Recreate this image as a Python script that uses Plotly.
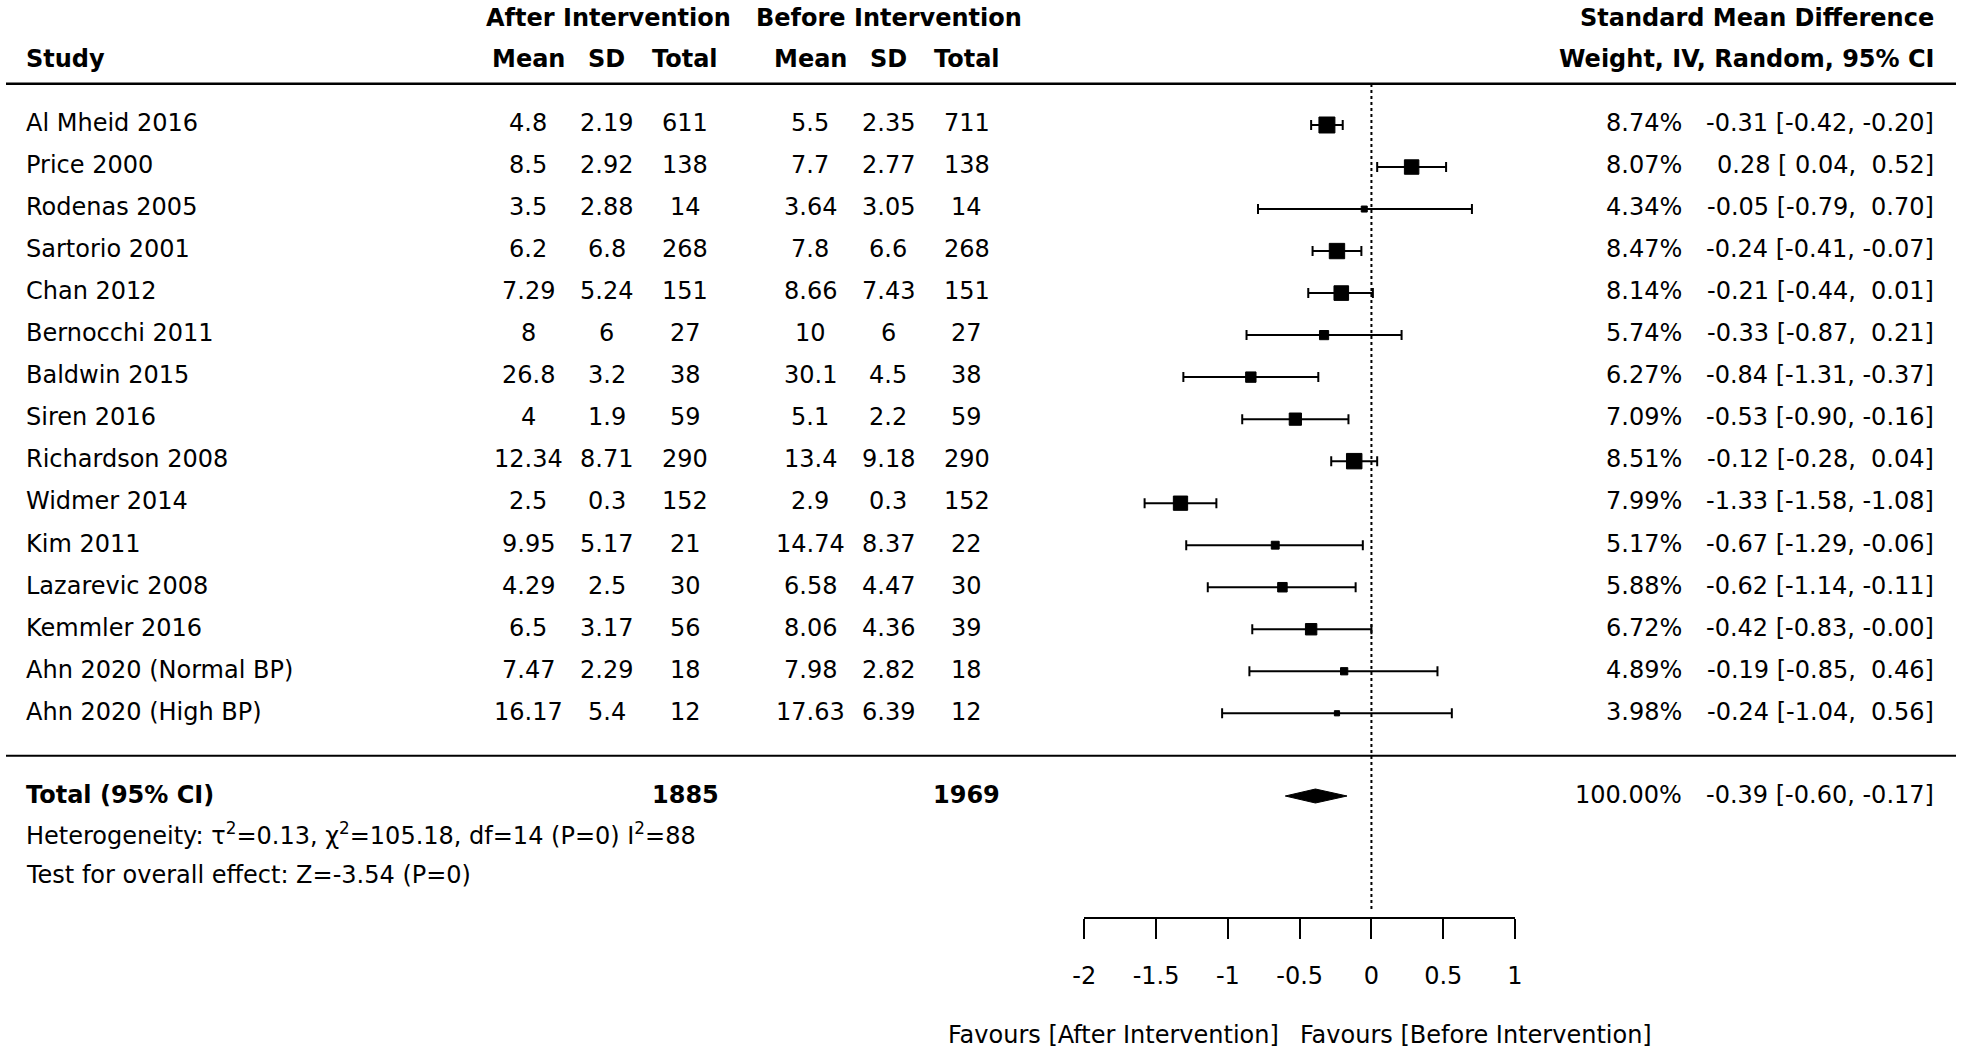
import plotly.graph_objects as go

# ---------------- data ----------------
studies = ["Al Mheid 2016", "Price 2000", "Rodenas 2005", "Sartorio 2001", "Chan 2012",
           "Bernocchi 2011", "Baldwin 2015", "Siren 2016", "Richardson 2008", "Widmer 2014",
           "Kim 2011", "Lazarevic 2008", "Kemmler 2016", "Ahn 2020 (Normal BP)", "Ahn 2020 (High BP)"]
after_mean = [4.8, 8.5, 3.5, 6.2, 7.29, 8, 26.8, 4, 12.34, 2.5, 9.95, 4.29, 6.5, 7.47, 16.17]
after_sd = [2.19, 2.92, 2.88, 6.8, 5.24, 6, 3.2, 1.9, 8.71, 0.3, 5.17, 2.5, 3.17, 2.29, 5.4]
after_n = [611, 138, 14, 268, 151, 27, 38, 59, 290, 152, 21, 30, 56, 18, 12]
before_mean = [5.5, 7.7, 3.64, 7.8, 8.66, 10, 30.1, 5.1, 13.4, 2.9, 14.74, 6.58, 8.06, 7.98, 17.63]
before_sd = [2.35, 2.77, 3.05, 6.6, 7.43, 6, 4.5, 2.2, 9.18, 0.3, 8.37, 4.47, 4.36, 2.82, 6.39]
before_n = [711, 138, 14, 268, 151, 27, 38, 59, 290, 152, 22, 30, 39, 18, 12]
weights = [8.74, 8.07, 4.34, 8.47, 8.14, 5.74, 6.27, 7.09, 8.51, 7.99, 5.17, 5.88, 6.72, 4.89, 3.98]
smd = [-0.31, 0.28, -0.05, -0.24, -0.21, -0.33, -0.84, -0.53, -0.12, -1.33, -0.67, -0.62, -0.42, -0.19, -0.24]
ci_low = [-0.42, 0.04, -0.79, -0.41, -0.44, -0.87, -1.31, -0.90, -0.28, -1.58, -1.29, -1.14, -0.83, -0.85, -1.04]
ci_high = [-0.20, 0.52, 0.70, -0.07, 0.01, 0.21, -0.37, -0.16, 0.04, -1.08, -0.06, -0.11, -0.0, 0.46, 0.56]

total_weight = 100.00
total_smd = -0.39
total_low = -0.60
total_high = -0.17
heterogeneity = "Heterogeneity: τ<sup>2</sup>=0.13, χ<sup>2</sup>=105.18, df=14 (P=0) I<sup>2</sup>=88"
overall_test = "Test for overall effect: Z=-3.54 (P=0)"
tick_vals = [-2, -1.5, -1, -0.5, 0, 0.5, 1]
tick_text = ["-2", "-1.5", "-1", "-0.5", "0", "0.5", "1"]
favours_left = "Favours [After Intervention]"
favours_right = "Favours [Before Intervention]"

# ---------------- layout geometry (page pixels) ----------------
FIG_W, FIG_H = 1962, 1054
OFF = 0                      # page margin removed below, figure fills the window
ROW0, ROW_H = 125.0, 42.02   # centre of first study row, row pitch
FONT = "DejaVu Sans"
FS = 24
NBSP = "\u00a0"


def px(xpage):
    return (xpage - OFF) / FIG_W


def yrow(ypage):
    return (ypage - ROW0) / ROW_H


def ppaper(ypage):
    return 1 - (ypage - OFF) / FIG_H


TEXT_DY = -1.7 / ROW_H

n = len(studies)
rows = list(range(n))

fig = go.Figure()

# study estimates: squares sized by weight, with 95% CI whiskers
sizes = [2.27 * w - 3.85 for w in weights]
fig.add_trace(go.Scatter(
    x=smd, y=rows, mode="markers",
    marker=dict(symbol="square", size=sizes, color="black", opacity=1,
                line=dict(width=1, color="black")),
    error_x=dict(type="data", symmetric=False,
                 array=[h - e for h, e in zip(ci_high, smd)],
                 arrayminus=[e - l for e, l in zip(smd, ci_low)],
                 color="black", thickness=2, width=5),
    showlegend=False, hoverinfo="skip"))

# pooled estimate diamond
TOTAL_ROW = yrow(796.0)
DH = 7.0 / ROW_H
fig.add_trace(go.Scatter(
    x=[total_low, total_smd, total_high, total_smd, total_low],
    y=[TOTAL_ROW, TOTAL_ROW - DH, TOTAL_ROW, TOTAL_ROW + DH, TOTAL_ROW],
    mode="lines", fill="toself", fillcolor="black",
    line=dict(color="black", width=1), showlegend=False, hoverinfo="skip"))

ann = []


def add_text(text, xpage, yr, anchor="center", bold=False):
    if bold:
        text = "<b>" + text + "</b>"
    ann.append(dict(text=text, x=px(xpage), xref="paper", y=yr, yref="y",
                    xanchor=anchor, yanchor="middle", showarrow=False,
                    borderpad=0, borderwidth=0,
                    font=dict(family=FONT, size=FS, color="black")))


COL_STUDY = 25.5
COL_AM, COL_AS, COL_AT = 528, 606.5, 685
COL_BM, COL_BS, COL_BT = 810, 888, 966.5
COL_W = 1681.5
COL_CI = 1934

H1 = yrow(18.0)
H2 = yrow(58.8)

add_text("After Intervention", 608, H1, bold=True)
add_text("Before Intervention", 889, H1, bold=True)
add_text("Standard Mean Difference", COL_CI, H1, "right", bold=True)
add_text("Study", COL_STUDY, H2, "left", bold=True)
for lab, xc in [("Mean", COL_AM), ("SD", COL_AS), ("Total", COL_AT),
                ("Mean", COL_BM), ("SD", COL_BS), ("Total", COL_BT)]:
    add_text(lab, xc, H2, bold=True)
add_text("Weight, IV, Random, 95% CI", COL_CI, H2, "right", bold=True)


def fmt_ci(e, lo, hi):
    return f"{e:.2f} [{lo:5.2f}, {hi:5.2f}]".replace(" ", NBSP)


for i in rows:
    yr = i + TEXT_DY
    add_text(studies[i], COL_STUDY, yr, "left")
    add_text(f"{after_mean[i]:g}", COL_AM, yr)
    add_text(f"{after_sd[i]:g}", COL_AS, yr)
    add_text(f"{after_n[i]}", COL_AT, yr)
    add_text(f"{before_mean[i]:g}", COL_BM, yr)
    add_text(f"{before_sd[i]:g}", COL_BS, yr)
    add_text(f"{before_n[i]}", COL_BT, yr)
    add_text(f"{weights[i]:.2f}%", COL_W, yr, "right")
    add_text(fmt_ci(smd[i], ci_low[i], ci_high[i]), COL_CI, yr, "right")

TOT_Y = yrow(795.0)
add_text("Total (95% CI)", COL_STUDY, TOT_Y, "left", bold=True)
add_text(f"{sum(after_n)}", COL_AT, TOT_Y, bold=True)
add_text(f"{sum(before_n)}", COL_BT, TOT_Y, bold=True)
add_text(f"{total_weight:.2f}%", COL_W, TOT_Y, "right")
add_text(fmt_ci(total_smd, total_low, total_high), COL_CI, TOT_Y, "right")
add_text(heterogeneity, COL_STUDY, yrow(833.5), "left")
add_text(overall_test, COL_STUDY, yrow(874.5), "left")
add_text(favours_left, 1278.5, yrow(1035.0), "right")
add_text(favours_right, 1300.0, yrow(1035.0), "left")

shapes = [
    dict(type="line", xref="paper", yref="y", x0=px(6), x1=px(1956),
         y0=yrow(83.8), y1=yrow(83.8), line=dict(color="black", width=2.5)),
    dict(type="line", xref="paper", yref="y", x0=px(6), x1=px(1956),
         y0=yrow(755.7), y1=yrow(755.7), line=dict(color="black", width=2)),
    dict(type="line", xref="x", yref="y", x0=0, x1=0,
         y0=yrow(84), y1=yrow(912), line=dict(color="black", width=2, dash="dot")),
]

fig.update_layout(
    template="none",
    width=FIG_W, height=FIG_H,
    margin=dict(l=0, r=0, t=0, b=0, pad=0, autoexpand=False),
    paper_bgcolor="white", plot_bgcolor="white",
    font=dict(family=FONT, size=FS, color="black"),
    annotations=ann, shapes=shapes, showlegend=False,
    xaxis=dict(domain=[px(1084.3), px(1515.0)], range=[-2, 1],
               anchor="free", position=ppaper(917.5), automargin=False,
               showline=True, linecolor="black", linewidth=2,
               ticks="outside", ticklen=20, tickwidth=2, tickcolor="black",
               tickvals=tick_vals, ticktext=tick_text,
               tickfont=dict(family=FONT, size=FS, color="black"),
               ticklabelstandoff=17,
               showgrid=False, zeroline=False, fixedrange=True),
    yaxis=dict(domain=[0, 1], range=[yrow(OFF + FIG_H), yrow(OFF)], automargin=False,
               visible=False, showgrid=False, zeroline=False, fixedrange=True),
)

# let the figure fill the browser window exactly (no default page margin, no modebar)
fig.write_html("out.html", config={"displayModeBar": False},
               post_script="document.body.style.margin='0';")
